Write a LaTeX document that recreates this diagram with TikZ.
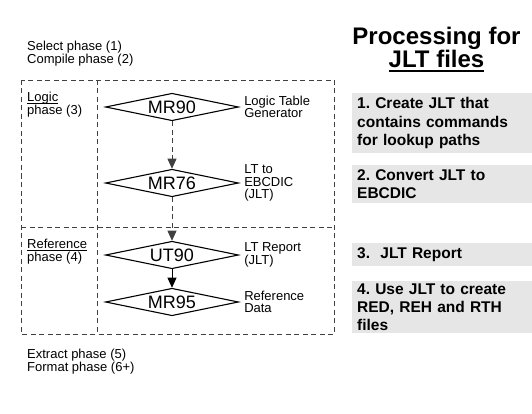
\documentclass[tikz,border=0pt]{standalone}
\usepackage{fontspec}
\setmainfont{Liberation Sans}
\usetikzlibrary{shapes.geometric,arrows.meta,positioning}

\definecolor{boxgray}{HTML}{E6E6E6}
\definecolor{framegray}{HTML}{404040}

\newlength{\ulwd}
\newcommand{\ulbox}[3]{\settowidth{\ulwd}{#3}\rlap{\rule[\dimexpr-#1-#2\relax]{\ulwd}{#2}}#3}
\newcommand{\phaseul}[1]{\ulbox{1.2pt}{.8pt}{#1}}
\newcommand{\titleul}[1]{\ulbox{2pt}{2pt}{#1}}
\frenchspacing

\begin{document}
\begin{tikzpicture}[x=1pt,y=-1pt,
    lbl/.style={inner sep=0pt,align=left,font=\fontsize{13}{12.5}\selectfont},
    prog/.style={diamond,draw,line width=1.1pt,shape aspect=5,inner sep=0pt,
      minimum width=133pt,minimum height=27.5pt,font=\fontsize{18}{18}\selectfont},
    stepbox/.style={fill=boxgray,anchor=north west,inner xsep=5pt,inner ysep=0pt,
      text width=170pt,align=left,font=\bfseries\fontsize{15.5}{18.3}\selectfont},
    frame/.style={draw=framegray,line width=.8pt,dash pattern=on 5pt off 3.5pt},
    flow/.style={-{Triangle[width=9pt,length=10pt]},line width=.8pt}]

  \useasboundingbox (0,0) rectangle (532,414);

  % phase frame
  \draw[frame] (21,80) rectangle (334,334);
  \draw[frame] (97,80) -- (97,334);
  \draw[frame] (21,227) -- (334,227);

  \begin{scope}[every node/.style={prog}]
    \node (mr90) at (172,107) {MR90};
    \node (mr76) at (172,183) {MR76};
    \node (ut90) at (172,255) {UT90};
    \node (mr95) at (172,302) {MR95};
  \end{scope}

  \node[lbl,right=5pt of mr90] (gen)    {Logic Table\\Generator};
  \node[lbl,right=5pt of mr76] (ebcdic) {LT to\\EBCDIC\\(JLT)};
  \node[lbl,right=5pt of ut90] (report) {LT Report\\(JLT)};
  \node[lbl,right=5pt of mr95] (data)   {Reference\\Data};

  \node[lbl,anchor=north west] (select)  at (27,41)  {Select phase (1)\\Compile phase (2)};
  \node[lbl,anchor=north west] (logic)   at (27,92)  {\phaseul{Logic}\\phase (3)};
  \node[lbl,anchor=north west] (refer)   at (27,239) {\phaseul{Reference}\\phase (4)};
  \node[lbl,anchor=north west] (extract) at (27,349) {Extract phase (5)\\Format phase (6+)};

  \begin{scope}[every edge/.style={draw,flow}]
    \path (mr90) edge[frame] (mr76);
    \path (mr76) edge[frame] (ut90);
    \path (ut90) edge (mr95);
  \end{scope}

  \node[font=\bfseries\fontsize{24}{22}\selectfont,align=center,inner sep=0pt,anchor=north]
    (title) at (436.5,26.5) {Processing for\\\titleul{JLT files}};

  \node[stepbox,minimum height=60pt] (step1) at (352,93)  {1. Create JLT that\\contains commands\\for lookup paths};
  \node[stepbox,minimum height=38pt] (step2) at (352,165) {2. Convert JLT to\\EBCDIC};
  \node[stepbox,minimum height=23pt] (step3) at (352,243) {3.\ \ JLT Report};
  \node[stepbox,minimum height=52pt] (step4) at (352,281) {4. Use JLT to create\\RED, REH and RTH\\files};

\end{tikzpicture}
\end{document}
